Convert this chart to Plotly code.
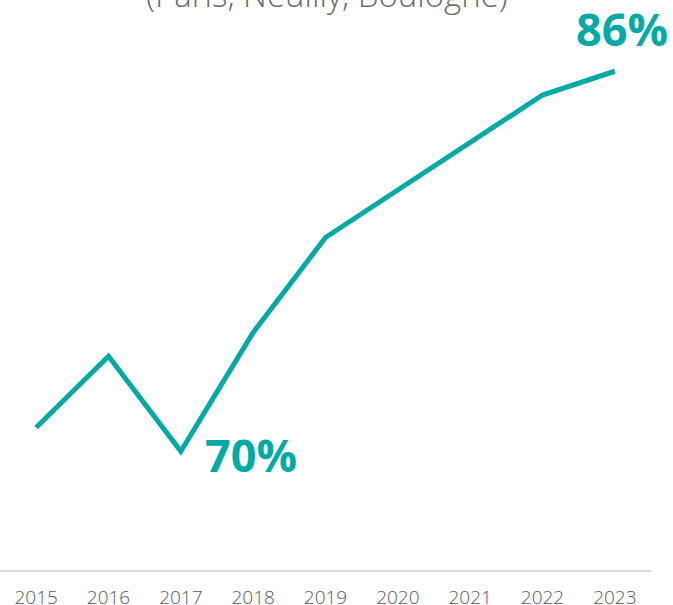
import plotly.graph_objects as go

years = ["2015", "2016", "2017", "2018", "2019", "2020", "2021", "2022", "2023"]
values = [71, 74, 70, 75, 79, 81, 83, 85, 86]
label_years = ["2017", "2023"]
label_texts = ["70%", "86%"]
subtitle = "(Paris, Neuilly, Boulogne)"

teal = "#00ABA6"

fig = go.Figure()
fig.add_trace(go.Scatter(
    x=years, y=values, mode="lines",
    line=dict(color=teal, width=5, shape="linear"),
    hoverinfo="skip",
))

# value labels (category index positions)
i0 = years.index(label_years[0])
i1 = years.index(label_years[1])
fig.add_annotation(x=i0, y=values[i0],
                   text="<b>" + label_texts[0] + "</b>", showarrow=False,
                   xanchor="left", yanchor="middle", xshift=22, yshift=-3,
                   font=dict(family="Open Sans", size=45, color=teal))
fig.add_annotation(x=i1, y=values[i1],
                   text="<b>" + label_texts[1] + "</b>", showarrow=False,
                   xanchor="center", yanchor="middle", xshift=7, yshift=43,
                   font=dict(family="Open Sans", size=45, color=teal))

# partially visible subtitle at top
fig.add_annotation(xref="paper", yref="paper", x=327/651, y=1,
                   text=subtitle, showarrow=False,
                   xanchor="center", yanchor="bottom", yshift=-19,
                   font=dict(family="Open Sans", size=33, color="#6b6b6b", weight=300))

fig.update_layout(
    width=673, height=605,
    margin=dict(l=0, r=22, t=0, b=35),
    paper_bgcolor="white", plot_bgcolor="white",
    showlegend=False,
    xaxis=dict(type="category", range=[-0.5, 8.5], showgrid=False,
               showline=True, linecolor="#d9d9d9", linewidth=2,
               ticks="", ticklabelstandoff=9, automargin=False,
               tickfont=dict(family="Open Sans", size=19, color="#595959", weight=300),
               zeroline=False, fixedrange=True),
    yaxis=dict(range=[65, 89], visible=False, showgrid=False, zeroline=False,
               fixedrange=True, automargin=False),
)

fig.write_html("out.html", config={"displayModeBar": False},
               post_script="document.body.style.margin='0';")
